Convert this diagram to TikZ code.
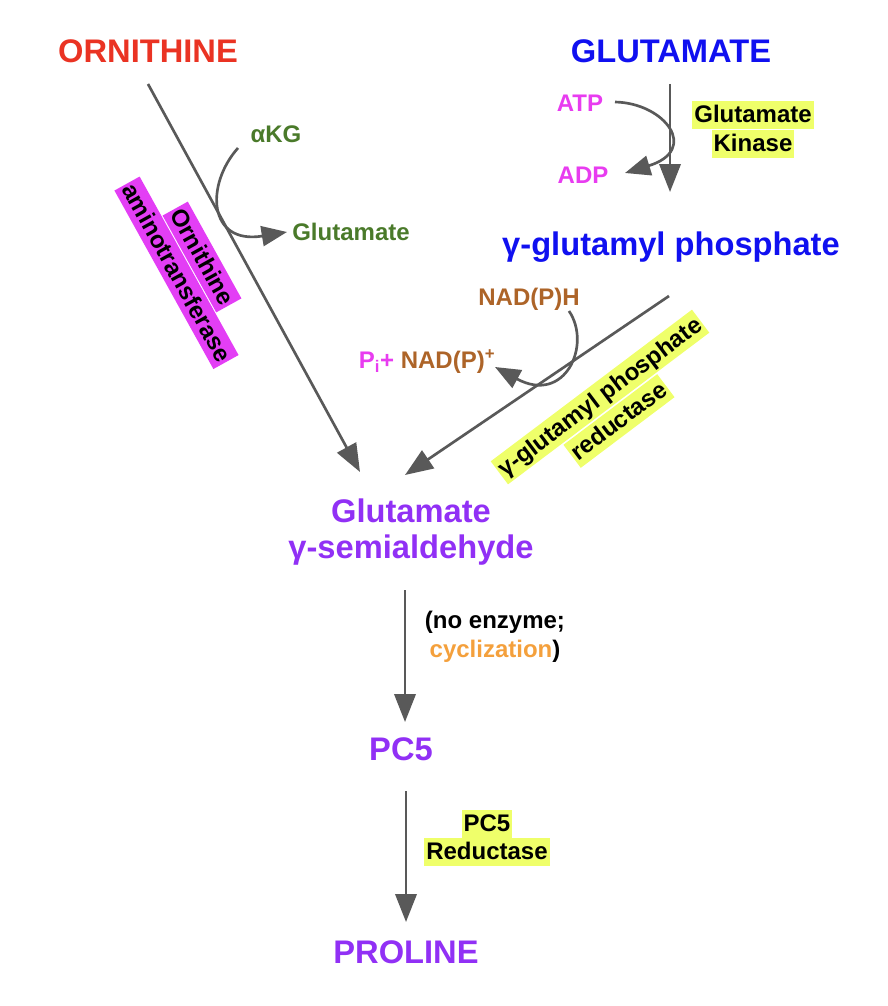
\documentclass[tikz,border=0pt]{standalone}
\usepackage{fontspec}
\setmainfont{Liberation Sans}
\usetikzlibrary{arrows.meta}
\definecolor{cred}{HTML}{EA3323}
\definecolor{cblue}{HTML}{1010F0}
\definecolor{cpurple}{HTML}{9130F5}
\definecolor{cgreen}{HTML}{4A7A2A}
\definecolor{cbrown}{HTML}{AD6428}
\definecolor{cmag}{HTML}{E83CF0}
\definecolor{cmagbox}{HTML}{E33EF5}
\definecolor{cyel}{HTML}{EFFF6A}
\definecolor{corange}{HTML}{F4A03C}
\definecolor{carrow}{HTML}{595959}
\tikzset{
  big/.style={font=\fontsize{24.5}{28}\selectfont\bfseries, inner sep=0pt, anchor=base},
  small/.style={font=\fontsize{18}{21}\selectfont\bfseries, inner sep=0pt, anchor=base},
  hl/.style={font=\fontsize{18}{21}\selectfont\bfseries, inner xsep=1.5pt, inner ysep=0pt,
    text height=16.6pt, text depth=5pt, anchor=center, text=black},
  yel/.style={hl, fill=cyel},
  magbox/.style={hl, fill=cmagbox},
  rxn/.style={draw=carrow, line width=2pt, -{Triangle[length=21pt,width=16pt]}},
  crv/.style={draw=carrow, line width=2pt, -{Triangle[length=19pt,width=15pt]}},
}
\begin{document}
\begin{tikzpicture}[x=0.75pt,y=-0.75pt]
\path[use as bounding box] (0,0) rectangle (888,1006);
% main compounds
\node[big, text=cred] (orn) at (148,63) {ORNITHINE};
\node[big, text=cblue] (glu) at (671,63) {GLUTAMATE};
\node[big, text=cblue] (gp) at (671,255) {γ-glutamyl phosphate};
\node[big, text=cpurple] (gsa1) at (411,522) {Glutamate};
\node[big, text=cpurple] (gsa2) at (411,558) {γ-semialdehyde};
\node[big, text=cpurple] (pc5) at (401,760) {PC5};
\node[big, text=cpurple] (pro) at (406,963) {PROLINE};
% cofactors
\node[small, text=cgreen] (akg) at (276,142) {αKG};
\node[small, text=cgreen] (gluo) at (351,240) {Glutamate};
\node[small, text=cmag] (atp) at (580,111) {ATP};
\node[small, text=cmag] (adp) at (583,183) {ADP};
\node[small, text=cbrown] (nadph) at (529,305) {NAD(P)H};
\node[small] (pi) at (427,368) {\textcolor{cmag}{P\textsubscript{i}+} \textcolor{cbrown}{NAD(P)\textsuperscript{+}}};
% notes
\node[small] (ne1) at (495,628) {(no enzyme;};
\node[small] (ne2) at (495,657) {\textcolor{corange}{cyclization})};
% enzymes
\node[yel] (gk1) at (753,115) {Glutamate};
\node[yel] (gk2) at (753,144) {Kinase};
\node[yel] (pr1) at (487,824) {PC5};
\node[yel] (pr2) at (487,852) {Reductase};
\node[yel, rotate=37] (gr1) at (600,397) {γ-glutamyl phosphate};
\node[yel, rotate=37] (gr2) at (619,421) {reductase};
\node[magbox, rotate=-61] (oa2) at (176.5,272.8) {aminotransferase};
\node[magbox, rotate=-61] (oa1) at (202,257) {Ornithine};
% coordinates
\coordinate (orns) at (148,84);
\coordinate (ornt) at (360,472);
\coordinate (glus) at (670,84);
\coordinate (glut) at (670,192);
\coordinate (gps) at (669,296);
\coordinate (gpt) at (405,475);
\coordinate (gsas) at (405,590);
\coordinate (gsat) at (405,722);
\coordinate (pc5s) at (406,791);
\coordinate (pc5t) at (406,922);
\coordinate (akgs) at (238,148);
\coordinate (akgt) at (287,232);
\coordinate (atps) at (615,102);
\coordinate (atpt) at (625,173);
\coordinate (nads) at (569,311);
\coordinate (nadt) at (495,367);
% reactions
\draw[rxn] (orns) -- (ornt);
\draw[rxn] (glus) -- (glut);
\draw[rxn] (gps) -- (gpt);
\draw[rxn] (gsas) -- (gsat);
\draw[rxn] (pc5s) -- (pc5t);
% cofactor curves
\draw[crv] (akgs) .. controls (205,185) and (208,245) .. (akgt);
\draw[crv] (atps) .. controls (665,103) and (700,150) .. (atpt);
\draw[crv] (nads) .. controls (592,345) and (565,405) .. (nadt);
\end{tikzpicture}
\end{document}
